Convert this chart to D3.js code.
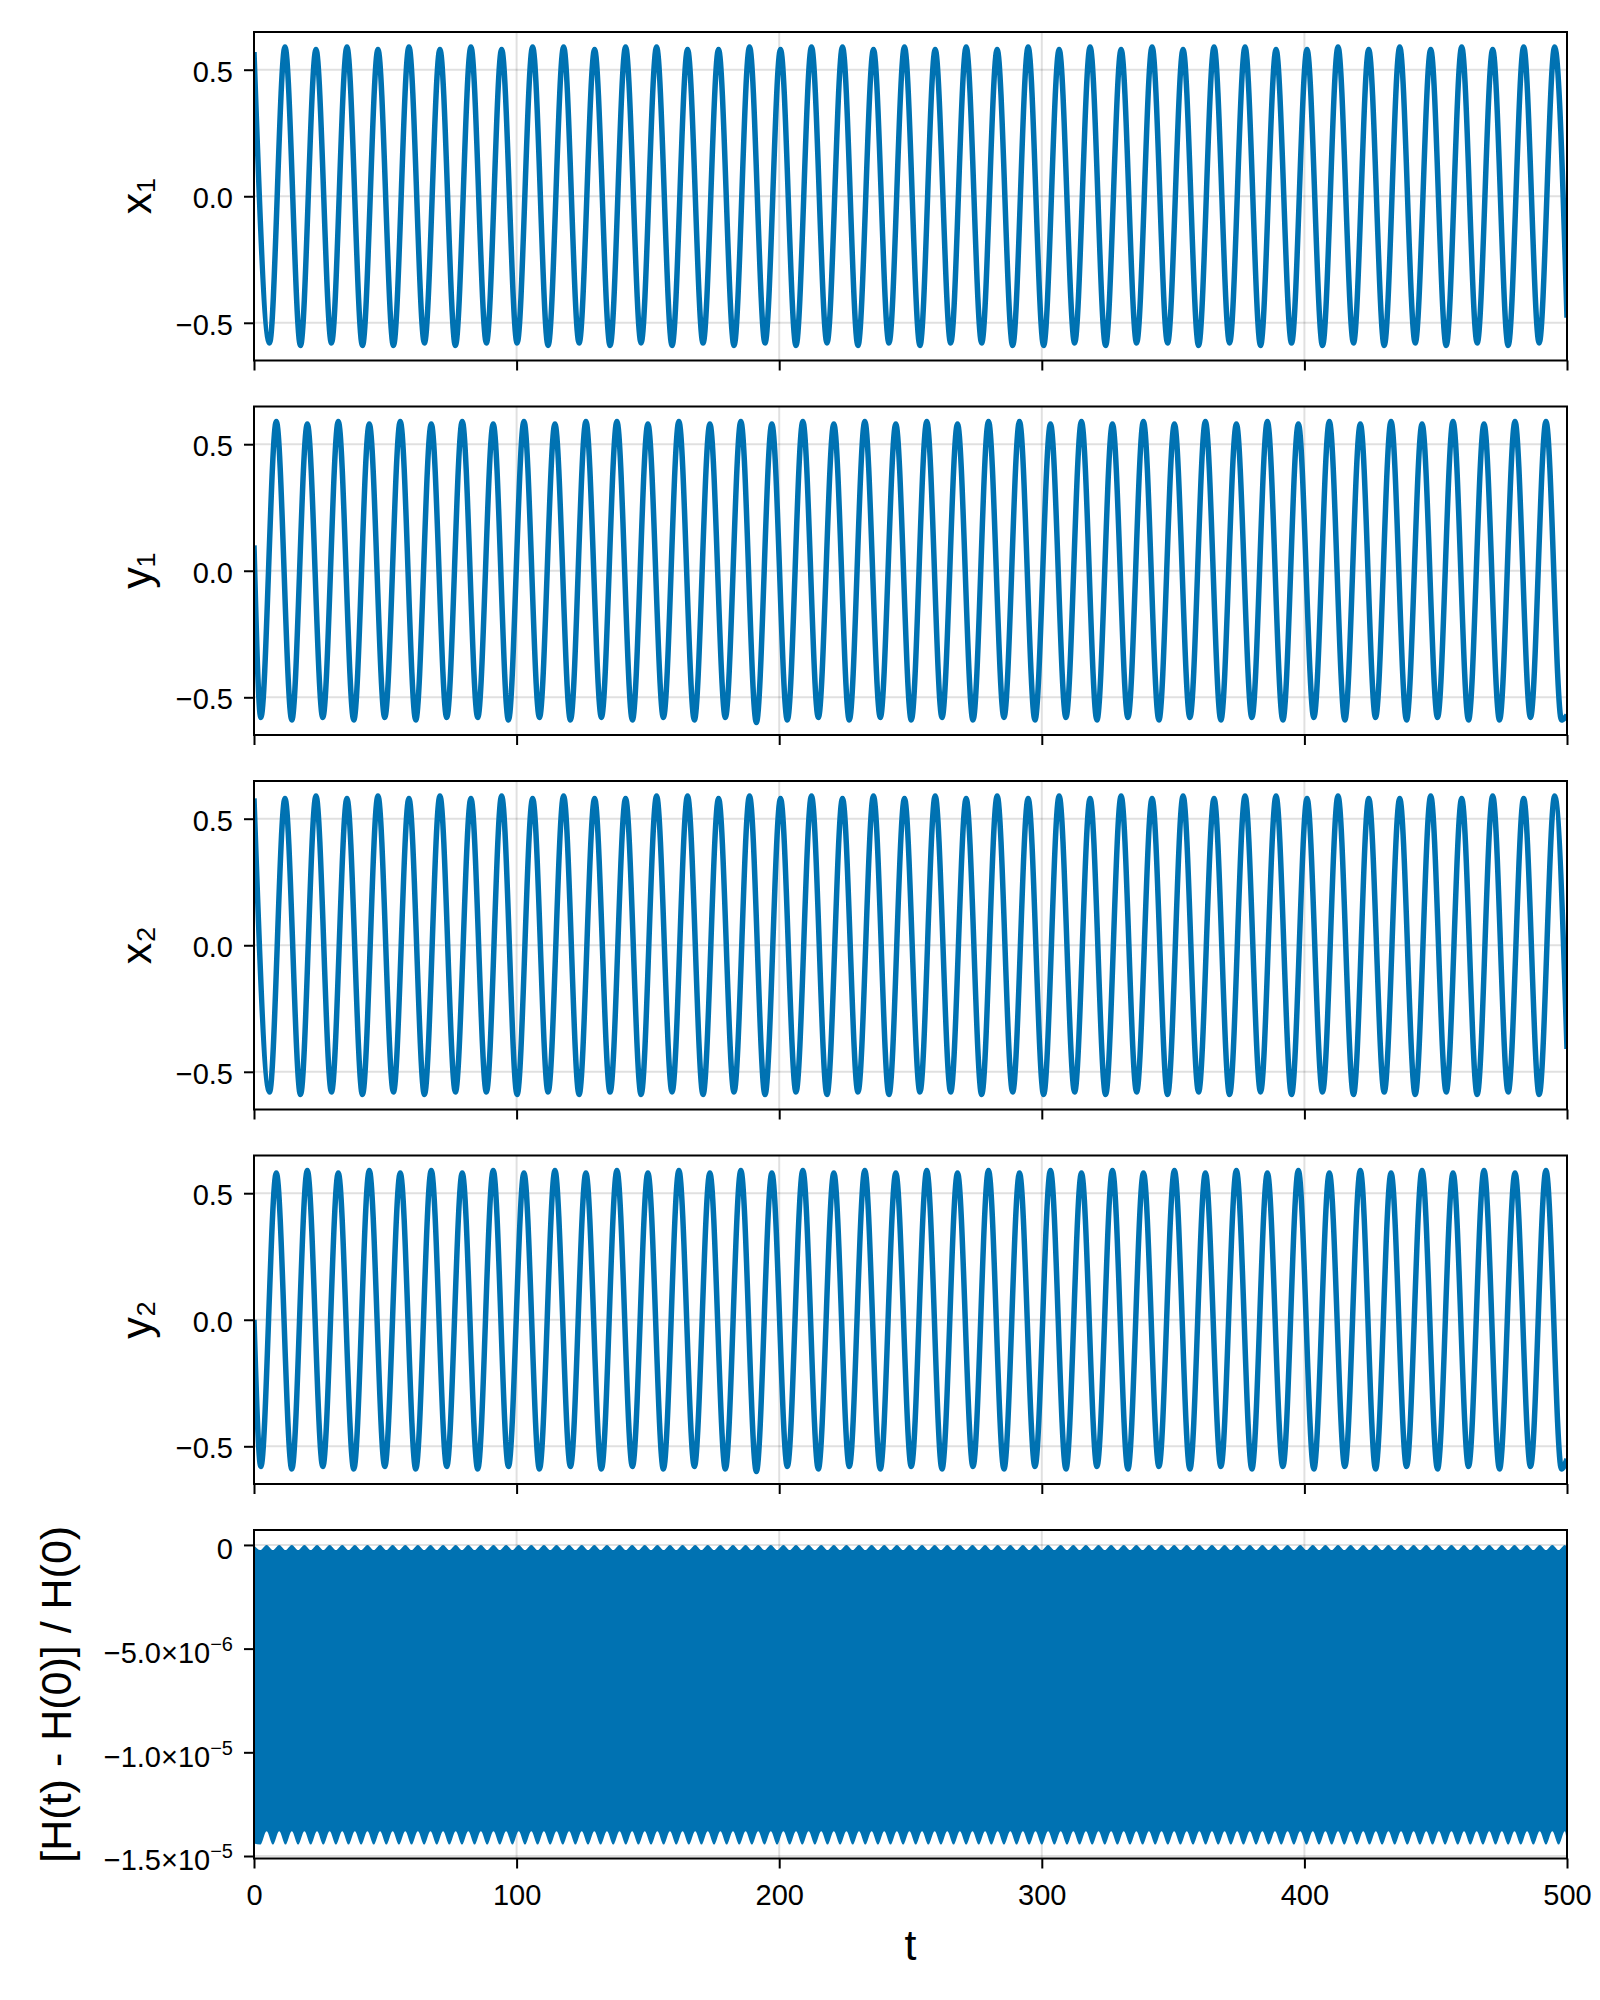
<!DOCTYPE html>
<html>
<head>
<meta charset="utf-8">
<script src="https://cdn.jsdelivr.net/npm/d3@7"></script>
<style>
  body { margin: 0; background: #fff; }
  text { font-family: "Liberation Sans", Arial, "DejaVu Sans", sans-serif; }
</style>
</head>
<body>
<svg id="chart"></svg>
<script>
// times of the turning points for the x panels (peak, trough, peak, ... , end)
const tX = [
  0, 5.9, 11.8, 17.7, 23.6, 29.5, 35.4, 41.3, 47.2, 53.1,
  59.0, 64.9, 70.8, 76.7, 82.6, 88.5, 94.3, 100.2, 106.1, 112.0,
  117.9, 123.8, 129.7, 135.6, 141.5, 147.4, 153.3, 159.2, 165.1, 171.0,
  176.9, 182.8, 188.7, 194.6, 200.5, 206.4, 212.3, 218.2, 224.1, 230.0,
  235.9, 241.8, 247.7, 253.6, 259.4, 265.3, 271.2, 277.1, 283.0, 288.9,
  294.8, 300.7, 306.6, 312.5, 318.4, 324.3, 330.2, 336.1, 342.0, 347.9,
  353.8, 359.7, 365.6, 371.5, 377.4, 383.3, 389.2, 395.1, 401.0, 406.9,
  412.8, 418.7, 424.5, 430.4, 436.3, 442.2, 448.1, 454.0, 459.9, 465.8,
  471.7, 477.6, 483.5, 489.4, 495.3, 500
]
const x1 = [
  0.57,-0.58, 0.59,-0.59, 0.58,-0.58, 0.59,-0.59, 0.58,-0.59,
  0.59,-0.58, 0.58,-0.59, 0.59,-0.58, 0.58,-0.58, 0.59,-0.59,
  0.59,-0.58, 0.58,-0.59, 0.59,-0.58, 0.59,-0.59, 0.58,-0.58,
  0.58,-0.59, 0.59,-0.58, 0.58,-0.59, 0.59,-0.58, 0.59,-0.59,
  0.58,-0.58, 0.59,-0.59, 0.58,-0.58, 0.59,-0.58, 0.58,-0.59,
  0.59,-0.59, 0.58,-0.58, 0.59,-0.59, 0.58,-0.58, 0.59,-0.58,
  0.58,-0.59, 0.59,-0.58, 0.59,-0.59, 0.58,-0.58, 0.58,-0.59,
  0.59,-0.58, 0.58,-0.59, 0.59,-0.58, 0.58,-0.59, 0.59,-0.58,
  0.58,-0.59, 0.59,-0.58, 0.59,-0.48
]
const x2 = [
  0.58,-0.58, 0.58,-0.59, 0.59,-0.58, 0.58,-0.59, 0.59,-0.58,
  0.58,-0.59, 0.59,-0.58, 0.58,-0.58, 0.59,-0.59, 0.58,-0.58,
  0.59,-0.59, 0.58,-0.58, 0.58,-0.59, 0.59,-0.58, 0.59,-0.59,
  0.58,-0.58, 0.59,-0.59, 0.58,-0.58, 0.59,-0.59, 0.58,-0.58,
  0.59,-0.59, 0.58,-0.58, 0.59,-0.58, 0.58,-0.59, 0.59,-0.58,
  0.58,-0.59, 0.59,-0.58, 0.58,-0.59, 0.59,-0.58, 0.58,-0.59,
  0.59,-0.58, 0.58,-0.59, 0.59,-0.58, 0.59,-0.59, 0.58,-0.58,
  0.59,-0.59, 0.58,-0.58, 0.58,-0.59, 0.59,-0.58, 0.58,-0.59,
  0.59,-0.58, 0.58,-0.59, 0.59,-0.41
]
// times of the turning points for the y panels (start, trough, peak, ... , end)
const tY = [
  0, 2.6, 8.5, 14.4, 20.3, 26.2, 32.1, 38.0, 43.9, 49.8,
  55.7, 61.6, 67.5, 73.4, 79.3, 85.2, 91.1, 96.9, 102.8, 108.7,
  114.6, 120.5, 126.4, 132.3, 138.2, 144.1, 150.0, 155.9, 161.8, 167.7,
  173.6, 179.5, 185.4, 191.3, 197.2, 203.1, 209.0, 214.9, 220.8, 226.7,
  232.6, 238.5, 244.4, 250.3, 256.2, 262.0, 267.9, 273.8, 279.7, 285.6,
  291.5, 297.4, 303.3, 309.2, 315.1, 321.0, 326.9, 332.8, 338.7, 344.6,
  350.5, 356.4, 362.3, 368.2, 374.1, 380.0, 385.9, 391.8, 397.7, 403.6,
  409.5, 415.4, 421.3, 427.1, 433.0, 438.9, 444.8, 450.7, 456.6, 462.5,
  468.4, 474.3, 480.2, 486.1, 492.0, 497.9, 500
]
const y1 = [
  0.10,-0.58, 0.59,-0.59, 0.58,-0.58, 0.59,-0.59, 0.58,-0.58,
  0.59,-0.59, 0.58,-0.58, 0.59,-0.58, 0.58,-0.59, 0.59,-0.58,
  0.58,-0.59, 0.59,-0.58, 0.59,-0.59, 0.58,-0.58, 0.59,-0.59,
  0.58,-0.58, 0.59,-0.60, 0.58,-0.59, 0.59,-0.58, 0.58,-0.59,
  0.59,-0.58, 0.58,-0.59, 0.59,-0.58, 0.58,-0.59, 0.59,-0.58,
  0.59,-0.59, 0.58,-0.58, 0.59,-0.59, 0.58,-0.58, 0.59,-0.59,
  0.58,-0.58, 0.59,-0.59, 0.58,-0.58, 0.59,-0.59, 0.58,-0.58,
  0.59,-0.59, 0.58,-0.58, 0.59,-0.59, 0.58,-0.58, 0.59,-0.59,
  0.58,-0.59, 0.59,-0.58, 0.59,-0.59, -0.57
]
const y2 = [
  0.00,-0.58, 0.58,-0.59, 0.59,-0.58, 0.58,-0.59, 0.59,-0.58,
  0.58,-0.59, 0.59,-0.58, 0.58,-0.59, 0.59,-0.58, 0.58,-0.59,
  0.59,-0.58, 0.58,-0.59, 0.59,-0.58, 0.58,-0.59, 0.59,-0.58,
  0.58,-0.59, 0.59,-0.60, 0.58,-0.58, 0.59,-0.59, 0.58,-0.58,
  0.59,-0.59, 0.58,-0.58, 0.59,-0.59, 0.58,-0.58, 0.59,-0.59,
  0.58,-0.58, 0.59,-0.59, 0.58,-0.58, 0.59,-0.59, 0.58,-0.58,
  0.59,-0.59, 0.58,-0.58, 0.59,-0.59, 0.58,-0.58, 0.59,-0.59,
  0.58,-0.58, 0.59,-0.59, 0.58,-0.58, 0.59,-0.59, 0.58,-0.58,
  0.59,-0.59, 0.58,-0.58, 0.59,-0.59, -0.55
]

// relative energy error: upper / lower envelope of the fast oscillation (units of 1e-6)
const hT = [
  0,2.4,4.8,7.2,9.6,12,14.4,16.8,19.2,21.6,
  24,26.4,28.8,31.2,33.6,36,38.4,40.8,43.2,45.6,
  48,50.4,52.8,55.2,57.6,60,62.4,64.8,67.2,69.6,
  72,74.4,76.8,79.2,81.6,84,86.4,88.8,91.2,93.6,
  96,98.4,100.8,103.2,105.6,108,110.4,112.8,115.2,117.6,
  120,122.4,124.8,127.2,129.6,132,134.4,136.8,139.2,141.6,
  144,146.4,148.8,151.2,153.6,156,158.4,160.8,163.2,165.6,
  168,170.4,172.8,175.2,177.6,180,182.4,184.8,187.2,189.6,
  192,194.4,196.8,199.2,201.6,204,206.4,208.8,211.2,213.6,
  216,218.4,220.8,223.2,225.6,228,230.4,232.8,235.2,237.6,
  240,242.4,244.8,247.2,249.6,252,254.4,256.8,259.2,261.6,
  264,266.4,268.8,271.2,273.6,276,278.4,280.8,283.2,285.6,
  288,290.4,292.8,295.2,297.6,300,302.4,304.8,307.2,309.6,
  312,314.4,316.8,319.2,321.6,324,326.4,328.8,331.2,333.6,
  336,338.4,340.8,343.2,345.6,348,350.4,352.8,355.2,357.6,
  360,362.4,364.8,367.2,369.6,372,374.4,376.8,379.2,381.6,
  384,386.4,388.8,391.2,393.6,396,398.4,400.8,403.2,405.6,
  408,410.4,412.8,415.2,417.6,420,422.4,424.8,427.2,429.6,
  432,434.4,436.8,439.2,441.6,444,446.4,448.8,451.2,453.6,
  456,458.4,460.8,463.2,465.6,468,470.4,472.8,475.2,477.6,
  480,482.4,484.8,487.2,489.6,492,494.4,496.8,499.2,500
]
const hTop = [
  0,-0.25,0,-0.25,0,-0.25,0,-0.25,0,-0.25,
  0,-0.25,0,-0.25,0,-0.25,0,-0.25,0,-0.25,
  0,-0.25,0,-0.25,0,-0.25,0,-0.25,0,-0.25,
  0,-0.25,0,-0.25,0,-0.25,0,-0.25,0,-0.25,
  0,-0.25,0,-0.25,0,-0.25,0,-0.25,0,-0.25,
  0,-0.25,0,-0.25,0,-0.25,0,-0.25,0,-0.25,
  0,-0.25,0,-0.25,0,-0.25,0,-0.25,0,-0.25,
  0,-0.25,0,-0.25,0,-0.25,0,-0.25,0,-0.25,
  0,-0.25,0,-0.25,0,-0.25,0,-0.25,0,-0.25,
  0,-0.25,0,-0.25,0,-0.25,0,-0.25,0,-0.25,
  0,-0.25,0,-0.25,0,-0.25,0,-0.25,0,-0.25,
  0,-0.25,0,-0.25,0,-0.25,0,-0.25,0,-0.25,
  0,-0.25,0,-0.25,0,-0.25,0,-0.25,0,-0.25,
  0,-0.25,0,-0.25,0,-0.25,0,-0.25,0,-0.25,
  0,-0.25,0,-0.25,0,-0.25,0,-0.25,0,-0.25,
  0,-0.25,0,-0.25,0,-0.25,0,-0.25,0,-0.25,
  0,-0.25,0,-0.25,0,-0.25,0,-0.25,0,-0.25,
  0,-0.25,0,-0.25,0,-0.25,0,-0.25,0,-0.25,
  0,-0.25,0,-0.25,0,-0.25,0,-0.25,0,-0.25,
  0,-0.25,0,-0.25,0,-0.25,0,-0.25,0,-0.25,
  0,-0.25,0,-0.25,0,-0.25,0,-0.25,0,-0.1
]
const hBot = [
  -14.4,-14.45,-13.8,-14.45,-13.8,-14.45,-13.8,-14.45,-13.8,-14.45,
  -13.8,-14.45,-13.8,-14.45,-13.8,-14.45,-13.8,-14.45,-13.8,-14.45,
  -13.8,-14.45,-13.8,-14.45,-13.8,-14.45,-13.8,-14.45,-13.8,-14.45,
  -13.8,-14.45,-13.8,-14.45,-13.8,-14.45,-13.8,-14.45,-13.8,-14.45,
  -13.8,-14.45,-13.8,-14.45,-13.8,-14.45,-13.8,-14.45,-13.8,-14.45,
  -13.8,-14.45,-13.8,-14.45,-13.8,-14.45,-13.8,-14.45,-13.8,-14.45,
  -13.8,-14.45,-13.8,-14.45,-13.8,-14.45,-13.8,-14.45,-13.8,-14.45,
  -13.8,-14.45,-13.8,-14.45,-13.8,-14.45,-13.8,-14.45,-13.8,-14.45,
  -13.8,-14.45,-13.8,-14.45,-13.8,-14.45,-13.8,-14.45,-13.8,-14.45,
  -13.8,-14.45,-13.8,-14.45,-13.8,-14.45,-13.8,-14.45,-13.8,-14.45,
  -13.8,-14.45,-13.8,-14.45,-13.8,-14.45,-13.8,-14.45,-13.8,-14.45,
  -13.8,-14.45,-13.8,-14.45,-13.8,-14.45,-13.8,-14.45,-13.8,-14.45,
  -13.8,-14.45,-13.8,-14.45,-13.8,-14.45,-13.8,-14.45,-13.8,-14.45,
  -13.8,-14.45,-13.8,-14.45,-13.8,-14.45,-13.8,-14.45,-13.8,-14.45,
  -13.8,-14.45,-13.8,-14.45,-13.8,-14.45,-13.8,-14.45,-13.8,-14.45,
  -13.8,-14.45,-13.8,-14.45,-13.8,-14.45,-13.8,-14.45,-13.8,-14.45,
  -13.8,-14.45,-13.8,-14.45,-13.8,-14.45,-13.8,-14.45,-13.8,-14.45,
  -13.8,-14.45,-13.8,-14.45,-13.8,-14.45,-13.8,-14.45,-13.8,-14.45,
  -13.8,-14.45,-13.8,-14.45,-13.8,-14.45,-13.8,-14.45,-13.8,-14.45,
  -13.8,-14.45,-13.8,-14.45,-13.8,-14.45,-13.8,-14.45,-13.8,-14.45,
  -13.8,-14.45,-13.8,-14.45,-13.8,-14.45,-13.8,-14.45,-13.8,-14.4
]

// ticks and labels
const xTicks = [0, 100, 200, 300, 400, 500]
const stateTicks = [-0.5, 0, 0.5]
const hTicks = [0, -5e-6, -1e-5, -1.5e-5]
const hTickText = [["0", ""], ["\u22125.0\u00d710", "\u22126"], ["\u22121.0\u00d710", "\u22125"], ["\u22121.5\u00d710", "\u22125"]]
const stateNames = ["x\u2081", "y\u2081", "x\u2082", "y\u2082"]
const hName = "[H(t) - H(0)] / H(0)"
const tName = "t"

const width = 1600
const height = 2000
const marge = {top: 32, left: 254, right: 33}
const panelH = 328.5
const panelStep = 374.5
const blue = "#0072b2"

const svg = d3.select("#chart").attr("width", width).attr("height", height)
svg.append("rect").attr("width", width).attr("height", height).attr("fill", "#fff")

const x = d3.scaleLinear().domain([0, 500]).range([marge.left, width - marge.right])

const states = [
  {t: tX, v: x1}, {t: tY, v: y1}, {t: tX, v: x2}, {t: tY, v: y2}
]

function panel(i, yScale, yTicks) {
  const top = marge.top + i * panelStep
  const g = svg.append("g")

  // grid
  g.selectAll(".hgrid").data(yTicks).enter().append("line")
    .attr("x1", x(0)).attr("x2", x(500))
    .attr("y1", d => yScale(d)).attr("y2", d => yScale(d))
    .attr("stroke", "#000").attr("stroke-opacity", 0.12).attr("stroke-width", 2)
  g.selectAll(".vgrid").data(xTicks).enter().append("line")
    .attr("x1", d => x(d)).attr("x2", d => x(d))
    .attr("y1", top).attr("y2", top + panelH)
    .attr("stroke", "#000").attr("stroke-opacity", 0.12).attr("stroke-width", 2)

  g.append("clipPath").attr("id", "clip" + i)
    .append("rect").attr("x", x(0)).attr("y", top).attr("width", x(500) - x(0)).attr("height", panelH)
  const plot = g.append("g").attr("clip-path", "url(#clip" + i + ")")
  return {g, plot, top}
}

function frameAndAxes(g, top, yScale, yTicks, showXLabels) {
  g.append("rect")
    .attr("x", x(0)).attr("y", top).attr("width", x(500) - x(0)).attr("height", panelH)
    .attr("fill", "none").attr("stroke", "#000").attr("stroke-width", 2)

  const ay = g.append("g").attr("transform", "translate(" + x(0) + ",0)")
    .call(d3.axisLeft(yScale).tickValues(yTicks).tickSize(10).tickPadding(11))
  const ax = g.append("g").attr("transform", "translate(0," + (top + panelH) + ")")
    .call(d3.axisBottom(x).tickValues(xTicks).tickSize(10).tickPadding(16)
      .tickFormat(showXLabels ? d3.format("d") : () => ""))
  for (const a of [ay, ax]) {
    a.select(".domain").remove()
    a.attr("font-size", 29).attr("font-family", null)
    a.selectAll(".tick line").attr("stroke-width", 2)
    a.selectAll(".tick text").attr("fill", "#000")
  }
  ay.selectAll(".tick text").attr("dy", "0.4em")
  return {ay, ax}
}

// state panels
states.forEach((s, i) => {
  const y = d3.scaleLinear().domain([-0.649, 0.649])
  const p = panel(i, y.range([marge.top + i * panelStep + panelH, marge.top + i * panelStep]), stateTicks)
  const line = d3.line().x(d => x(d[0])).y(d => y(d[1])).curve(d3.curveMonotoneX)
  p.plot.append("path").datum(d3.zip(s.t, s.v))
    .attr("d", line).attr("fill", "none").attr("stroke", blue)
    .attr("stroke-width", 5.5).attr("stroke-linejoin", "round")
  const ax = frameAndAxes(p.g, p.top, y, stateTicks, false)
  ax.ay.selectAll(".tick text").text(d3.format(".1f"))
  p.g.append("text")
    .attr("transform", "translate(151," + (p.top + panelH / 2) + ") rotate(-90)")
    .attr("text-anchor", "middle").attr("font-size", 43).text(stateNames[i])
})

// energy panel
{
  const i = 4
  const top = marge.top + i * panelStep
  const y = d3.scaleLinear().domain([-1.512e-5, 0.072e-5]).range([top + panelH, top])
  const p = panel(i, y, hTicks)
  const area = d3.area()
    .x(d => x(d[0]))
    .y0(d => y(d[2] * 1e-6))
    .y1(d => y(d[1] * 1e-6))
    .curve(d3.curveMonotoneX)
  p.plot.append("path").datum(d3.zip(hT, hTop, hBot))
    .attr("d", area).attr("fill", blue)
  const ax = frameAndAxes(p.g, top, y, hTicks, true)
  ax.ay.selectAll(".tick text").attr("dy", "0.48em").text("").each(function (d, k) {
    const el = d3.select(this)
    el.append("tspan").text(hTickText[k][0])
    if (hTickText[k][1]) el.append("tspan").attr("dy", -12).attr("font-size", 20).text(hTickText[k][1])
  })
  p.g.append("text")
    .attr("transform", "translate(71," + (top + panelH / 2) + ") rotate(-90)")
    .attr("text-anchor", "middle").attr("font-size", 43).text(hName)
  p.g.append("text")
    .attr("x", (x(0) + x(500)) / 2).attr("y", 1960)
    .attr("text-anchor", "middle").attr("font-size", 43).text(tName)
}
</script>
</body>
</html>
